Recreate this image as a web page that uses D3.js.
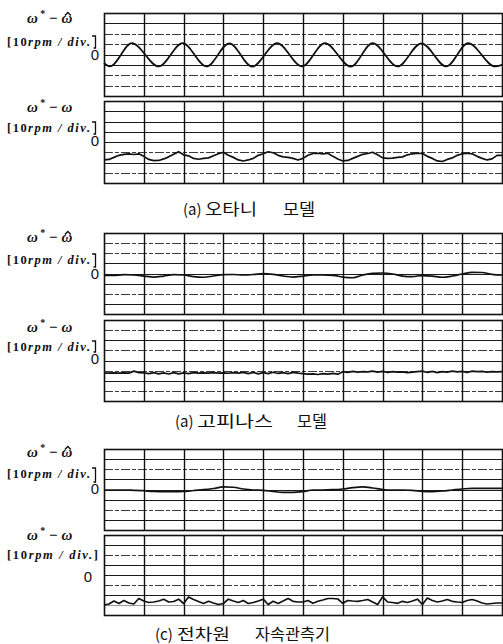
<!DOCTYPE html>
<html><head><meta charset="utf-8">
<script src="https://cdn.jsdelivr.net/npm/d3@7"></script>
<style>body{margin:0;background:#fff}svg{display:block}</style>
</head><body>
<svg id="c" width="503" height="644"></svg>
<script>
// ---------------- DATA ----------------
const captions = ["(a) 오타니 모델", "(a) 고피나스 모델", "(c) 전차원 자속관측기"];
const estLabel = "ω\u0302";     // ω* − ω̂  (estimation error)
const spdLabel = "ω";           // ω* − ω  (speed error)
const unitLabelNum = "10";
const unitLabelTxt = "rpm / div.";
const zeroLabel = "0";
const xDivisions = 10;           // time divisions
const yDomain = [-4, 4];         // vertical divisions

// (a) Otani: estimation error, extrema [time div] / [value div]
const otaniEstT = [0, 0.15, 0.7, 1.375, 1.975, 2.575, 3.15, 3.725, 4.35, 4.975, 5.55, 6.2, 6.75, 7.375, 7.975, 8.6, 9.15, 9.825, 10];
const otaniEstV = [-0.8, -1.15, 1.1, -1.15, 1.1, -1.15, 1.08, -1.17, 1.1, -1.15, 1.1, -1.17, 1.1, -1.15, 1.08, -1.15, 1.1, -1.15, -1.0];

// (a) Otani: speed error, sampled every 1/8 div
const otaniSpd = [-1.75,-1.7,-1.5,-1.3,-1.2,-1.15,-1.22,-1.15,-1.4,-1.7,-1.82,-1.8,-1.65,-1.45,-1.2,-0.95,
  -1.25,-1.35,-1.6,-1.68,-1.6,-1.55,-1.35,-1.15,-1.0,-1.3,-1.5,-1.75,-1.85,-1.75,-1.6,-1.3,
  -1.15,-0.95,-1.05,-1.3,-1.45,-1.5,-1.6,-1.75,-1.6,-1.3,-1.12,-1.1,-1.15,-1.1,-1.4,-1.65,
  -1.85,-1.8,-1.6,-1.4,-1.2,-1.12,-1.0,-1.25,-1.55,-1.6,-1.58,-1.5,-1.45,-1.25,-1.15,-1.1,
  -1.12,-1.4,-1.6,-1.85,-1.9,-1.7,-1.55,-1.3,-1.15,-1.1,-1.15,-1.4,-1.6,-1.75,-1.65,-1.3,-1.3];

// (a) Gopinath: estimation error, every 1/4 div
const gopEst = [-0.2,-0.18,-0.12,-0.15,-0.25,-0.35,-0.25,-0.12,-0.15,-0.3,-0.37,-0.25,-0.12,-0.1,-0.15,-0.1,
  0.0,-0.08,-0.25,-0.35,-0.25,-0.15,-0.15,-0.18,-0.35,-0.42,-0.15,0.02,0.05,-0.05,-0.25,-0.3,
  -0.2,-0.25,-0.37,-0.25,-0.05,0.12,0.1,-0.08,-0.15];

// (a) Gopinath: speed error, every 1/8 div
const gopSpd = [-1.25,-1.25,-1.22,-1.25,-1.23,-1.25,-1.05,-1.2,-1.22,-1.3,-1.2,-1.32,-1.22,-1.33,-1.2,-1.32,
  -1.22,-1.3,-1.2,-1.25,-1.22,-1.25,-1.2,-1.24,-1.22,-1.26,-1.2,-1.24,-1.18,-1.3,-1.18,-1.32,
  -1.2,-1.3,-1.16,-1.28,-1.2,-1.3,-1.18,-1.25,-1.3,-1.35,-1.32,-1.38,-1.3,-1.35,-1.28,-1.35,
  -1.1,-1.18,-1.08,-1.15,-1.1,-1.12,-1.05,-1.15,-1.08,-1.18,-1.1,-1.15,-1.12,-1.2,-1.15,-1.1,
  -1.05,-1.18,-1.08,-1.2,-1.1,-1.15,-1.05,-1.12,-1.08,-1.18,-1.05,-1.1,-1.08,-1.15,-1.1,-1.12,-1.1];

// (c) Full-order flux observer: estimation error, every 1/4 div
const fullEst = [-0.05,-0.05,-0.05,-0.08,-0.12,-0.2,-0.22,-0.22,-0.2,-0.1,-0.02,0.1,0.25,0.22,0.05,-0.05,
  -0.08,-0.2,-0.28,-0.28,-0.2,-0.05,-0.05,-0.02,0.05,0.18,0.25,0.15,0.0,-0.05,-0.05,-0.08,
  -0.18,-0.22,-0.15,-0.05,0.05,0.12,0.12,0.12,0.12];

// (c) Full-order flux observer: speed error, every 1/8 div
const fullSpd = [-3.0,-2.9,-2.6,-2.85,-2.55,-2.8,-2.9,-2.35,-2.6,-2.75,-2.7,-2.6,-2.42,-2.7,-2.65,-2.42,
  -2.85,-2.19,-2.45,-2.65,-2.85,-2.63,-2.8,-2.95,-2.85,-2.42,-2.6,-2.75,-2.55,-2.85,-2.75,-2.6,
  -2.42,-2.95,-2.63,-2.85,-2.6,-2.35,-2.63,-2.7,-2.7,-2.55,-2.83,-2.63,-2.5,-2.35,-2.35,-2.4,
  -2.83,-2.55,-2.6,-2.63,-2.55,-2.45,-2.7,-2.95,-2.19,-2.7,-2.75,-2.83,-2.63,-2.75,-2.6,-2.42,
  -2.95,-2.3,-2.55,-2.7,-2.6,-2.45,-2.63,-2.7,-2.75,-2.55,-2.45,-2.6,-2.8,-2.9,-2.85,-2.8,-2.8];

// ---------------- LAYOUT / STYLE ----------------
const svg = d3.select("#c");
svg.append("rect").attr("width",503).attr("height",644).attr("fill","#fff");
const LEFT = 104, RIGHT = 502;
const panels = [
  {top:13,  bottom:96,  kind:"est", ser:{t:otaniEstT, v:otaniEstV}, curve:d3.curveMonotoneX, dash:[0,1,1,0,0,1,1], lab:{w:18,u:42,z:55,zx:95,tall:true}},
  {top:101, bottom:183, kind:"spd", ser:otaniSpd, step:1/8, curve:d3.curveLinear, dash:[0,0,0,0,1,0,1], lab:{w:107,u:128,z:141,zx:95,tall:true}},
  {top:233, bottom:314, kind:"est", ser:gopEst, step:1/4, curve:d3.curveMonotoneX, dash:[1,1,0,0,0,1,0], lab:{w:237,u:260,z:274,zx:95,tall:true}},
  {top:320, bottom:401, kind:"spd", ser:gopSpd, step:1/8, curve:d3.curveLinear, dash:[1,0,1,0,1,0,1], lab:{w:327,u:347,z:359,zx:95,tall:true}},
  {top:449, bottom:530, kind:"est", ser:fullEst, step:1/4, curve:d3.curveMonotoneX, dash:[0,1,0,0,0,1,0], lab:{w:452,u:474,z:489,zx:95,tall:true}},
  {top:535, bottom:615, kind:"spd", ser:fullSpd, step:1/8, curve:d3.curveLinear, dash:[0,1,0,0,1,0,2], lab:{w:535,u:555,z:577,zx:88,tall:false}},
];
const captionY = [215, 427, 640];
const captionSegX = [[183, 205, 283], [175, 197, 297], [155, 177, 255]];
const captionSegW = [[null, 52, 32], [null, 76, 30], [null, 53, 75]];

const x = d3.scaleLinear().domain([0, xDivisions]).range([LEFT, RIGHT]);

panels.forEach(p => {
  const y = d3.scaleLinear().domain(yDomain).range([p.bottom, p.top]);
  const g = svg.append("g");
  const hTicks = d3.range(yDomain[0]+1, yDomain[1]);
  g.selectAll(".h").data(hTicks).enter().append("line")
    .attr("x1", LEFT).attr("x2", RIGHT)
    .attr("y1", d => Math.round(y(d))+0.5).attr("y2", d => Math.round(y(d))+0.5)
    .attr("stroke", (d,i) => { const s = p.dash[hTicks.length-1-i]; return s===2 ? "#999" : (s ? "#3a3a3a" : "#1a1a1a"); })
    .attr("stroke-width", (d,i) => p.dash[hTicks.length-1-i]===1 ? 1 : 1.15)
    .attr("stroke-dasharray", (d,i) => p.dash[hTicks.length-1-i]===1 ? "9,2,4,2" : null);
  const vTicks = d3.range(1, xDivisions);
  g.selectAll(".v").data(vTicks).enter().append("line")
    .attr("x1", d => Math.round(x(d))+0.5).attr("x2", d => Math.round(x(d))+0.5)
    .attr("y1", p.top).attr("y2", p.bottom)
    .attr("stroke", "#111").attr("stroke-width", 1.4);
  g.append("rect").attr("x", LEFT+0.5).attr("y", p.top+0.5)
    .attr("width", RIGHT-LEFT).attr("height", p.bottom-p.top)
    .attr("fill","none").attr("stroke","#111").attr("stroke-width",1.6);
  let pts;
  if (Array.isArray(p.ser)) pts = p.ser.map((v,i) => [i*p.step, v]);
  else pts = p.ser.t.map((t,i) => [t, p.ser.v[i]]);
  g.append("path").datum(pts)
    .attr("d", d3.line().x(d => x(d[0])).y(d => y(d[1])).curve(p.curve))
    .attr("fill","none").attr("stroke","#111").attr("stroke-width",1.7)
    .attr("stroke-linejoin","round");

  // labels
  const L = p.lab;
  const lab = p.kind==="est" ? estLabel : spdLabel;
  const t1 = g.append("text").attr("x", 27).attr("y", L.w+5)
    .attr("font-family","Liberation Serif, DejaVu Serif, serif")
    .attr("font-weight","bold").attr("font-style","italic").attr("font-size",15).attr("fill","#111");
  t1.append("tspan").text("ω");
  t1.append("tspan").attr("dy",-6).attr("font-size",10).attr("font-style","normal").text(" *");
  t1.append("tspan").attr("dy",6).attr("font-style","normal").text(" − ");
  t1.append("tspan").text(lab[0]);
  if (lab.length > 1) {   // circumflex accent drawn over the last ω
    const n = t1.node();
    const ext = n.getExtentOfChar(n.getNumberOfChars()-1);
    const cx = ext.x + ext.width/2 + 1;
    g.append("path")
      .attr("d", `M${cx-3},${L.w-2.5} L${cx},${L.w-5.5} L${cx+3},${L.w-2.5}`)
      .attr("fill","none").attr("stroke","#111").attr("stroke-width",1.4);
  }

  const t2 = g.append("text").attr("x", 7).attr("y", L.u+4)
    .attr("font-family","Liberation Serif, DejaVu Serif, serif")
    .attr("font-weight","bold").attr("font-size",12.5).attr("fill","#111")
    .attr("textLength", L.tall ? 83 : 91).attr("lengthAdjust","spacing");
  t2.append("tspan").text("[" + unitLabelNum);
  t2.append("tspan").attr("font-style","italic").text(unitLabelTxt);
  if (!L.tall) t2.append("tspan").text("]");
  if (L.tall) {
    g.append("path")
      .attr("d", `M${92},${L.u-6} h3.5 v${L.z-L.u-1} h-2`)
      .attr("fill","none").attr("stroke","#111").attr("stroke-width",1.3);
  }
  g.append("text").attr("x", L.zx).attr("y", L.z+5)
    .attr("text-anchor","middle")
    .attr("font-family","Liberation Sans, Arial, sans-serif")
    .attr("font-size",15).attr("fill","#111").text(zeroLabel);
});

captions.forEach((c,i) => {
  c.split(" ").forEach((s,j) => {
    const t = svg.append("text").attr("x", captionSegX[i][j]).attr("y", captionY[i])
      .attr("font-family","Noto Sans CJK KR, sans-serif").attr("fill","#111")
      .attr("font-size", j===0 ? 15 : 16)
      .text(s);
    if (captionSegW[i][j]) t.attr("textLength", captionSegW[i][j]).attr("lengthAdjust","spacingAndGlyphs");
  });
});
</script>
</body></html>
